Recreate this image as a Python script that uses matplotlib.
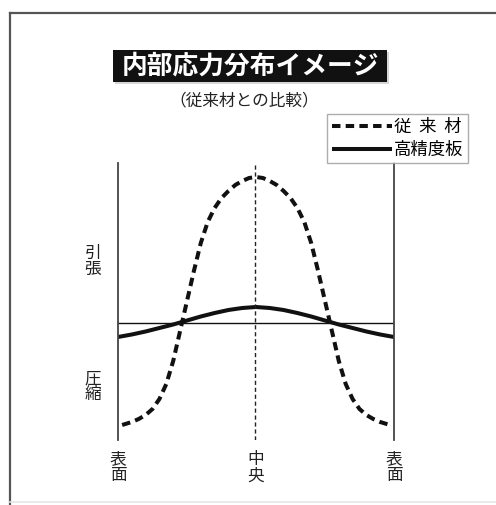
import matplotlib
matplotlib.use("Agg")
import matplotlib.pyplot as plt
from matplotlib.patches import Rectangle
from matplotlib.lines import Line2D

plt.rcParams['font.family'] = ['Noto Sans CJK JP', 'DejaVu Sans']

# 位置 (表面=-1, 中央=0, 表面=1)
u_old = [-0.97, -0.90, -0.85, -0.80, -0.75, -0.70, -0.65, -0.60, -0.55, -0.50,
         -0.45, -0.40, -0.35, -0.30, -0.25, -0.20, -0.15, -0.10, -0.05, 0.0,
         0.05, 0.10, 0.15, 0.20, 0.25, 0.30, 0.35, 0.40, 0.45, 0.50,
         0.55, 0.60, 0.65, 0.70, 0.75, 0.80, 0.85, 0.90, 0.97]
s_old = [-102, -99, -96, -92, -86, -76, -61, -38, -8, 22,
         52, 80, 101, 115, 125, 132, 138, 142, 145, 146,
         145, 142, 138, 132, 125, 115, 101, 80, 52, 22,
         -8, -38, -61, -76, -86, -92, -96, -99, -102]

u_new = [-1.0, -0.9, -0.8, -0.7, -0.6, -0.5, -0.4, -0.3, -0.2, -0.1, 0.0,
         0.1, 0.2, 0.3, 0.4, 0.5, 0.6, 0.7, 0.8, 0.9, 1.0]
s_new = [-14, -11.5, -8.5, -5, -1.5, 2.5, 6.5, 10, 13, 15, 16,
         15, 13, 10, 6.5, 2.5, -1.5, -5, -8.5, -11.5, -14]

labels = ["従  来  材", "高精度板"]
x_ticks = [-1, 0, 1]
x_labels = ["表\n面", "中\n央", "表\n面"]
y_ticks = [63, -62]
y_labels = ["引\n張", "圧\n縮"]

W, H = 496, 505
fig = plt.figure(figsize=(W / 100, H / 100), dpi=100)

# 外枠
fig.add_artist(Line2D([10 / W, 10 / W], [0, 1 - 13 / H], transform=fig.transFigure,
                      color="#555555", lw=1.6))
fig.add_artist(Line2D([10 / W, 1], [1 - 13 / H, 1 - 13 / H], transform=fig.transFigure,
                      color="#555555", lw=1.6))
fig.add_artist(Line2D([10 / W, 1], [3 / H, 3 / H], transform=fig.transFigure,
                      color="#e6e6e6", lw=1.2))

# タイトル
fig.add_artist(Rectangle((115 / W, 1 - 84 / H), 274 / W, 32 / H, transform=fig.transFigure,
                         facecolor="#bbbbbb", edgecolor="none", alpha=0.6))
fig.add_artist(Rectangle((113 / W, 1 - 82 / H), 274 / W, 32 / H, transform=fig.transFigure,
                         facecolor="#111111", edgecolor="none"))
fig.text(250 / W, 1 - 66 / H, "内部応力分布イメージ", color="white", fontsize=18.5,
         fontweight="bold", ha="center", va="center")
fig.text(244 / W, 1 - 101 / H, "（従来材との比較）", color="#222222", fontsize=12,
         ha="center", va="center")

ax = fig.add_axes([118 / W, 1 - 440 / H, 276 / W, 277 / H])
ax.set_xlim(-1, 1)
ax.set_ylim(-117, 160)

l1, = ax.plot(u_old, s_old, color="#111111", lw=2.9, ls=(0, (2.1, 1.3)),
              dash_capstyle="butt", dash_joinstyle="round")
l2, = ax.plot(u_new, s_new, color="#111111", lw=2.9, solid_capstyle="butt",
              solid_joinstyle="round")

ax.axhline(0, color="#111111", lw=1.0)
ax.axvline(-0.01, color="#222222", lw=1.0, ls=(0, (3, 2)))

for side in ["top", "bottom"]:
    ax.spines[side].set_visible(False)
for side in ["left", "right"]:
    ax.spines[side].set_color("#444444")
    ax.spines[side].set_linewidth(1.3)

ax.set_xticks(x_ticks)
ax.set_xticklabels(x_labels, fontsize=12, linespacing=0.95, color="#222222")
ax.set_yticks(y_ticks)
ax.set_yticklabels(y_labels, fontsize=12, linespacing=0.95, color="#222222")
ax.tick_params(length=0)
ax.tick_params(axis="x", pad=8)
ax.tick_params(axis="y", pad=12)

leg = fig.legend([l1, l2], labels, loc="upper right",
                 bbox_to_anchor=(468 / W, 1 - 114 / H), fontsize=12.5,
                 handlelength=3.5, handletextpad=0.1, borderpad=0.25,
                 labelspacing=0.25, fancybox=False, borderaxespad=0)
leg.get_frame().set_edgecolor("#999999")
leg.get_frame().set_linewidth(1.0)

fig.savefig("out.png", dpi=100)
